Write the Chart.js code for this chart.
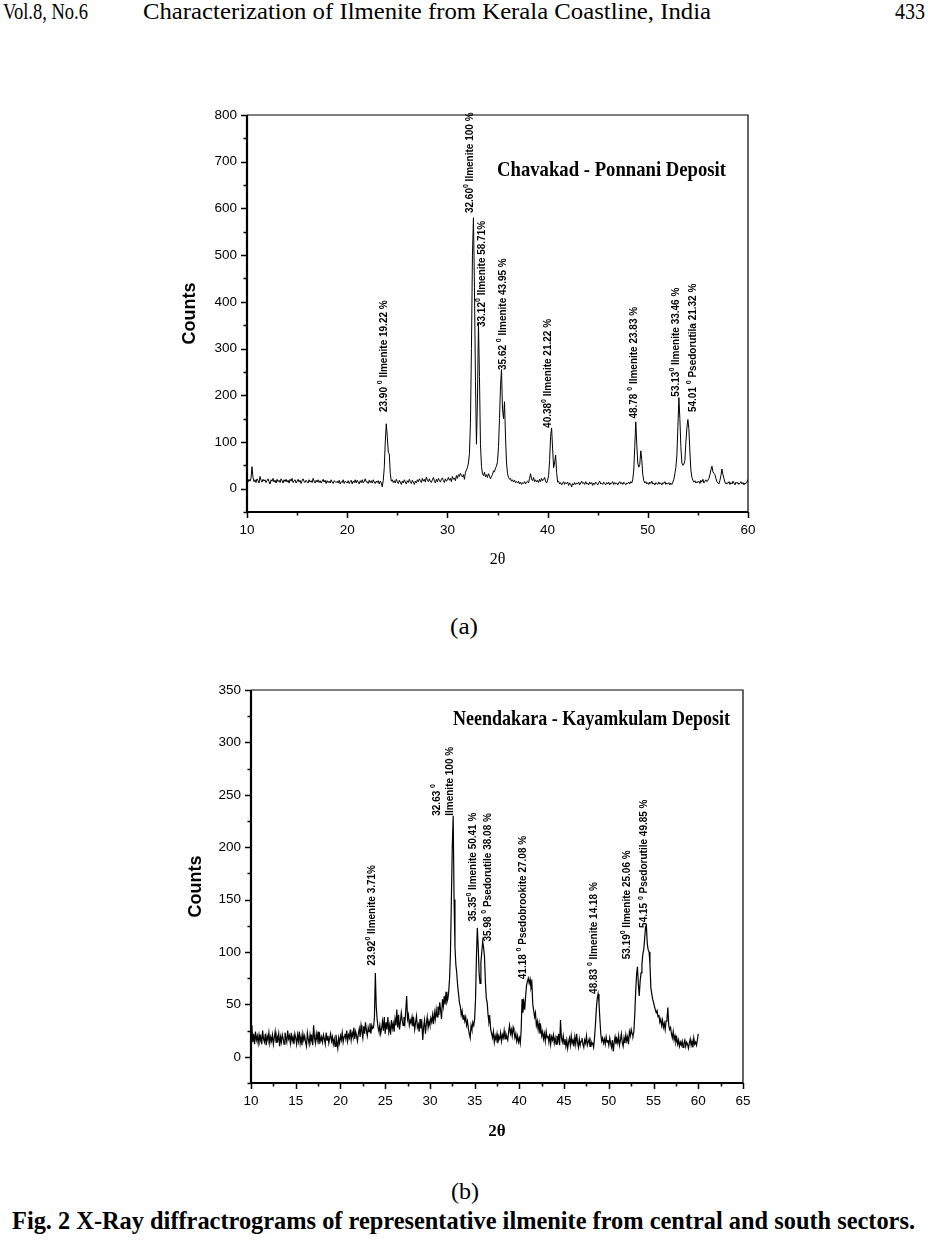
<!DOCTYPE html>
<html><head><meta charset="utf-8">
<script src="https://cdn.jsdelivr.net/npm/chart.js@4"></script>
<style>
html,body{margin:0;padding:0;background:#fff;}
body{width:928px;height:1242px;position:relative;overflow:hidden;font-family:"Liberation Serif","Times New Roman",serif;color:#000;}
.t{position:absolute;white-space:nowrap;transform-origin:0 50%;line-height:1;}
canvas{position:absolute;}
</style></head>
<body>
<div class="t" style="left:3px;top:-1px;font-size:24px;" data-w="85">Vol.8, No.6</div>
<div class="t" style="left:143px;top:-1px;font-size:24px;" data-w="568">Characterization of Ilmenite from Kerala Coastline, India</div>
<div class="t" style="left:895px;top:-1px;font-size:24px;" data-w="30">433</div>
<canvas id="ca" width="620" height="490" style="left:160px;top:95px;width:620px;height:490px;"></canvas>
<div class="t" style="left:450px;top:614px;font-size:24px;" data-w="28">(a)</div>
<canvas id="cb" width="620" height="490" style="left:165px;top:670px;width:620px;height:490px;"></canvas>
<div class="t" style="left:451px;top:1179px;font-size:24px;" data-w="28">(b)</div>
<div class="t" style="left:12px;top:1208px;font-size:25px;font-weight:bold;" data-w="903">Fig. 2 X-Ray diffractrograms of representative ilmenite from central and south sectors.</div>
<script>
// ---- data: counts sampled every 0.1 deg 2θ from 10.0 to 60.0 ----
const START_2THETA = 10, STEP_2THETA = 0.1;

const countsA = [
18,14,20,16,22,47,24,15,19,13,
21,17,12,26,18,14,20,16,19,13,
17,21,15,10,19,16,22,14,18,12,
20,15,18,13,21,17,12,19,15,20,
14,18,12,20,16,22,13,17,19,12,
16,20,14,18,11,17,21,15,13,18,
15,12,19,14,17,13,22,16,12,18,
14,19,13,17,12,16,20,14,18,11,
17,13,16,12,19,14,11,17,15,13,
16,12,18,10,15,13,19,11,16,14,
12,17,11,15,18,10,16,13,19,12,
18,14,10,17,13,19,12,16,21,14,
15,11,18,13,17,12,19,14,11,16,
13,17,10,16,12,4,18,45,100,139,
112,78,74,32,16,19,13,17,12,20,
15,11,18,14,9,16,12,19,14,10,
17,13,20,15,11,18,14,9,16,12,
19,15,21,17,13,22,16,20,14,25,
18,15,21,16,13,19,24,17,12,20,
15,22,18,14,20,23,17,13,21,16,
19,24,18,22,15,26,20,23,17,28,
22,30,26,33,28,25,30,20,35,40,
45,55,75,140,300,500,580,430,230,95,
190,355,240,95,48,32,28,35,25,30,
24,32,27,21,26,30,38,36,44,48,
58,90,150,220,255,170,150,186,110,55,
32,24,20,22,16,19,14,18,13,15,
12,16,10,14,9,13,11,15,10,14,
16,12,22,32,20,17,24,15,19,14,
18,13,20,15,22,17,19,24,16,12,
18,28,60,112,130,85,45,55,72,35,
14,16,10,13,8,12,15,9,13,11,
14,7,12,10,4,11,8,13,9,12,
10,14,8,12,16,11,13,9,15,10,
12,8,14,10,13,7,12,9,14,11,
8,13,16,10,12,9,14,11,8,13,
10,14,8,12,11,15,9,13,10,12,
8,12,15,10,13,9,14,11,8,12,
11,14,10,15,12,20,40,90,143,95,
55,46,52,81,62,30,17,12,15,10,
13,9,14,11,16,10,12,8,13,11,
9,14,10,12,8,13,11,15,9,12,
10,13,8,12,9,14,20,32,45,70,
130,195,150,90,55,50,52,60,100,130,
148,128,80,40,24,18,14,17,12,15,
13,16,11,18,14,20,12,16,19,15,
18,22,30,40,48,36,33,30,22,15,
12,10,18,28,42,30,22,14,10,13,
11,15,9,13,10,16,12,8,14,11,
13,9,12,15,10,13,8,12,11,14,
20];

const countsB = [
18,30,14,22,12,24,16,20,13,21,
15,19,12,25,17,14,22,11,20,16,
23,13,19,15,21,12,18,24,14,20,
16,22,10,19,14,21,17,12,23,18,
14,25,17,20,13,23,15,19,12,22,
18,12,21,15,24,13,19,11,22,16,
20,14,10,23,17,12,21,15,19,11,
30,18,13,22,16,24,12,20,15,19,
14,21,17,12,23,16,20,13,18,22,
15,19,12,17,10,21,14,8,18,13,
20,16,23,14,19,22,17,25,15,21,
18,26,16,23,19,28,17,24,20,15,
22,27,19,30,24,18,29,22,33,25,
20,28,24,32,22,30,27,28,38,80,
48,36,28,24,30,22,27,34,25,38,
22,33,26,38,24,30,21,35,27,32,
24,36,30,45,28,40,26,33,42,35,
30,38,32,44,58,36,40,30,35,32,
38,29,35,26,33,39,28,31,24,36,
27,32,16,29,35,22,31,38,28,34,
30,37,33,40,31,42,36,45,38,48,
40,52,44,36,55,48,58,50,62,52,
55,62,75,100,150,200,230,150,105,88,
80,68,60,52,48,40,44,36,40,34,
38,30,34,27,22,18,30,26,33,30,
36,55,95,123,105,80,70,90,100,110,
104,96,72,56,52,40,33,37,26,22,
18,24,14,20,16,22,13,19,17,23,
15,21,18,25,17,22,19,16,24,30,
22,26,20,28,24,18,22,15,20,14,
18,13,25,55,42,52,45,58,68,72,
75,70,74,66,70,50,44,38,42,30,
34,26,32,22,28,20,24,17,22,15,
24,18,20,14,22,12,19,16,21,13,
18,12,20,15,22,11,35,18,14,20,
12,17,10,16,8,14,18,11,20,13,
16,10,19,12,22,14,9,17,11,15,
18,12,9,16,13,20,11,14,17,10,
15,12,13,9,18,30,45,55,60,52,
36,22,15,18,13,17,12,19,14,16,
11,18,13,9,16,5,14,19,12,17,
13,20,11,16,22,14,10,18,13,21,
15,19,12,24,20,26,22,20,24,40,
62,78,86,70,58,72,80,88,98,102,
112,123,125,108,102,100,88,66,60,55,
52,48,45,42,44,38,40,33,36,30,
35,28,32,26,34,36,47,30,26,28,
22,18,24,16,20,14,18,12,16,10,
14,11,15,9,13,16,10,14,12,8,
13,17,11,15,9,18,12,14,11,16,
22];

const xTicksA = [10,20,30,40,50,60];
const yTicksA = [0,100,200,300,400,500,600,700,800];
const xTicksB = [10,15,20,25,30,35,40,45,50,55,60,65];
const yTicksB = [0,50,100,150,200,250,300,350];

const peakTextA = [
 "23.90 ^0 Ilmenite 19.22 %",
 "32.60^0 Ilmenite 100 %",
 "33.12^0 Ilmenite 58.71%",
 "35.62 ^0 Ilmenite 43.95 %",
 "40.38^0 Ilmenite 21.22 %",
 "48.78 ^0 Ilmenite 23.83 %",
 "53.13^0 Ilmenite 33.46 %",
 "54.01 ^0 Psedorutila 21.32 %"];
const peakTextB = [
 "23.92^0 Ilmenite 3.71%",
 "32.63 ^0",
 "Ilmenite 100 %",
 "35.35^0 Ilmenite 50.41 %",
 "35.98 ^0 Psedorutile 38.08 %",
 "41.18 ^0 Psedobrookite 27.08 %",
 "48.83 ^0 Ilmenite 14.18 %",
 "53.19^0 Ilmenite 25.06 %",
 "54.15 ^0 Psedorutile 49.85 %"];

// label anchors (text centre in 2θ, text start in counts)
const anchorsA = [[23.67,164],[32.26,590],[33.45,346],[35.55,254],[40.04,130],[48.62,150],[52.81,197],[54.51,164]];
const anchorsB = [[23.58,87],[30.77,230],[32.22,230],[34.81,129],[36.49,110],[40.42,74],[48.39,60],[52.09,93],[54.0,123]];

const SANS = '"Liberation Sans", Arial, Helvetica, sans-serif';
const SERIF = '"Liberation Serif", "Times New Roman", serif';

const frameTicks = {
  id: 'frameTicks',
  afterDraw(chart, args, o) {
    const {ctx, chartArea: a, scales: {x, y}} = chart;
    ctx.save();
    ctx.strokeStyle = '#000';
    ctx.lineWidth = 1.2;
    ctx.beginPath(); ctx.moveTo(a.left, a.top); ctx.lineTo(a.right, a.top); ctx.lineTo(a.right, a.bottom); ctx.stroke();
    ctx.lineWidth = 2.2;
    ctx.beginPath(); ctx.moveTo(a.left, a.top); ctx.lineTo(a.left, a.bottom); ctx.lineTo(a.right, a.bottom); ctx.stroke();
    const mid = arr => arr.slice(1).map((v, i) => (v + arr[i]) / 2);
    const yMinor = [o.yTicks[0] - (o.yTicks[1] - o.yTicks[0]) / 2, ...mid(o.yTicks)];
    const xMinor = mid(o.xTicks);
    ctx.lineWidth = 1.5;
    ctx.beginPath();
    o.yTicks.forEach(v => { const p = Math.round(y.getPixelForValue(v)) + 0.5; ctx.moveTo(a.left - 6, p); ctx.lineTo(a.left, p); });
    yMinor.forEach(v => { const p = Math.round(y.getPixelForValue(v)) + 0.5; ctx.moveTo(a.left - 3.5, p); ctx.lineTo(a.left, p); });
    o.xTicks.forEach(v => { const p = Math.round(x.getPixelForValue(v)) + 0.5; ctx.moveTo(p, a.bottom); ctx.lineTo(p, a.bottom + 6); });
    xMinor.forEach(v => { const p = Math.round(x.getPixelForValue(v)) + 0.5; ctx.moveTo(p, a.bottom); ctx.lineTo(p, a.bottom + 3.5); });
    ctx.stroke();
    ctx.restore();
  }
};

const peakText = {
  id: 'peakText',
  afterDatasetsDraw(chart, args, o) {
    const {ctx, chartArea: a, scales: {x, y}} = chart;
    ctx.save();
    ctx.fillStyle = '#000';
    o.texts.forEach((txt, i) => {
      const [at, base] = o.anchors[i];
      const px = x.getPixelForValue(at), py = y.getPixelForValue(base);
      ctx.save();
      ctx.translate(px, py);
      ctx.rotate(-Math.PI / 2);
      ctx.textBaseline = 'middle';
      ctx.textAlign = 'left';
      let cx = 0;
      const parts = txt.split('^0');
      parts.forEach((p, k) => {
        ctx.font = 'bold 10px ' + SANS;
        ctx.fillText(p, cx, 0);
        cx += ctx.measureText(p).width;
        if (k < parts.length - 1) {
          ctx.font = 'bold 7px ' + SANS;
          ctx.fillText('0', cx, -4);
          cx += ctx.measureText('0').width;
        }
      });
      ctx.restore();
    });
    // in-plot title
    const t = o.title;
    ctx.font = 'bold ' + t.size + 'px ' + SERIF;
    ctx.textBaseline = 'middle';
    ctx.textAlign = 'left';
    const w = ctx.measureText(t.text).width;
    ctx.translate(a.left + t.dx, a.top + t.dy);
    ctx.scale(t.w / w, 1);
    ctx.fillText(t.text, 0, 0);
    ctx.restore();
  }
};

function build(id, counts, c) {
  const pts = counts.map((v, i) => ({x: +(START_2THETA + i * STEP_2THETA).toFixed(1), y: v}));
  return new Chart(document.getElementById(id), {
    type: 'line',
    data: {datasets: [{data: pts, borderColor: '#000', borderWidth: c.lw, pointRadius: 0, tension: 0, fill: false}]},
    options: {
      responsive: false, animation: false, events: [],
      layout: {padding: c.pad},
      plugins: {
        legend: {display: false}, tooltip: {enabled: false},
        frameTicks: {xTicks: c.xTicks, yTicks: c.yTicks},
        peakText: {texts: c.texts, anchors: c.anchors, title: c.title}
      },
      scales: {
        x: {
          type: 'linear', min: c.xmin, max: c.xmax,
          afterBuildTicks: s => { s.ticks = c.xTicks.map(v => ({value: v})); },
          afterFit: s => { s.height = c.xh; },
          grid: {display: false, drawTicks: false}, border: {display: false},
          ticks: {color: '#000', font: {family: SANS, size: 13.5}, padding: 10, maxRotation: 0, autoSkip: false},
          title: {display: true, text: '2θ', color: '#000', font: {family: SERIF, size: c.xtSize, weight: c.xtWeight}, padding: {top: 0, bottom: c.xtPad}}
        },
        y: {
          type: 'linear', min: c.ymin, max: c.ymax,
          afterBuildTicks: s => { s.ticks = c.yTicks.map(v => ({value: v})); },
          afterFit: s => { s.width = c.yw; },
          grid: {display: false, drawTicks: false}, border: {display: false},
          ticks: {color: '#000', font: {family: SANS, size: 13.5}, padding: 10, autoSkip: false},
          title: {display: true, text: 'Counts', color: '#000', font: {family: SANS, size: 18, weight: 'bold'}, padding: {top: c.ytPad, bottom: 0}}
        }
      }
    },
    plugins: [frameTicks, peakText]
  });
}

function fitTexts() {
  document.querySelectorAll('.t[data-w]').forEach(el => {
    el.style.transform = 'none';
    const w = el.getBoundingClientRect().width;
    el.style.transform = 'scaleX(' + (parseFloat(el.dataset.w) / w) + ')';
  });
}

function init() {
  fitTexts();
  build('ca', countsA, {
    xmin: 10, xmax: 60, ymin: -50, ymax: 800, xTicks: xTicksA, yTicks: yTicksA,
    pad: {left: 0, right: 32, top: 20, bottom: 0}, yw: 87, xh: 73, lw: 1,
    xtSize: 16, xtWeight: 'normal', xtPad: 16, ytPad: 19,
    texts: peakTextA, anchors: anchorsA,
    title: {text: 'Chavakad - Ponnani Deposit', dx: 250, dy: 56, w: 229, size: 21}
  });
  build('cb', countsB, {
    xmin: 10, xmax: 65, ymin: -25, ymax: 350, xTicks: xTicksB, yTicks: yTicksB,
    pad: {left: 0, right: 42, top: 20, bottom: 0}, yw: 86, xh: 77, lw: 1.2,
    xtSize: 17, xtWeight: 'bold', xtPad: 18, ytPad: 20,
    texts: peakTextB, anchors: anchorsB,
    title: {text: 'Neendakara - Kayamkulam Deposit', dx: 202, dy: 30, w: 277, size: 21}
  });
}
if (document.fonts && document.fonts.ready) document.fonts.ready.then(init); else init();
</script>
</body></html>
